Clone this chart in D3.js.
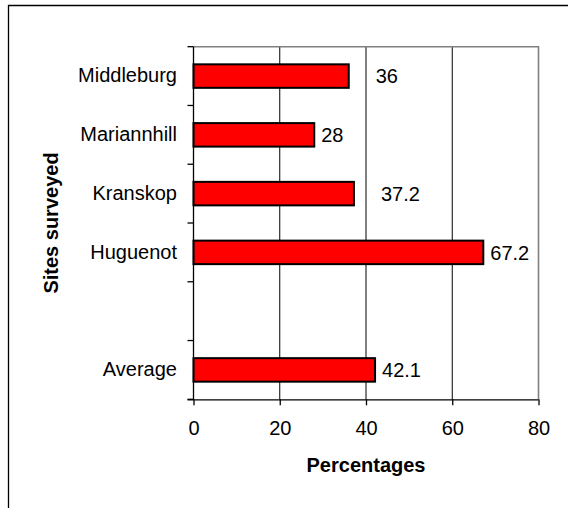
<!DOCTYPE html>
<html>
<head>
<meta charset="utf-8">
<script src="https://cdn.jsdelivr.net/npm/d3@7"></script>
<style>
  html, body { margin: 0; padding: 0; background: #fff; }
  text { font-family: "Liberation Sans", Arial, sans-serif; fill: #000; }
</style>
</head>
<body>
<svg id="chart" width="568" height="508"></svg>
<script>
// ---- data ----
const categories = ["Middleburg", "Mariannhill", "Kranskop", "Huguenot", "", "Average"];
const values = [36, 28, 37.2, 67.2, null, 42.1];
const valueLabels = ["36", "28", "37.2", "67.2", "", "42.1"];
const xTicks = [0, 20, 40, 60, 80];
const xTitle = "Percentages";
const yTitle = "Sites surveyed";

// ---- layout / style ----
const plot = { left: 193.5, right: 538.5, top: 46.7, bottom: 399.3 };
const labelNudge = [20, 0, 20, 0, 0, 0]; // extra label shift seen in the reference
const svg = d3.select("#chart");

svg.append("rect").attr("width", 568).attr("height", 508).attr("fill", "#fff");
// outer frame (only left & top visible in the picture)
svg.append("path")
  .attr("d", "M8.5,520 V5.5 H580")
  .attr("fill", "none").attr("stroke", "#000").attr("stroke-width", 1.3);

const x = d3.scaleLinear().domain([0, 80]).range([plot.left, plot.right]);
const slot = d3.scaleBand().domain(categories).range([plot.top, plot.bottom]).padding(0);
const barH = slot.step() * 0.4;

// gridlines
svg.append("g").selectAll("line").data(xTicks.filter(d => d > 0 && d < 80)).join("line")
  .attr("x1", d => x(d)).attr("x2", d => x(d))
  .attr("y1", plot.top).attr("y2", plot.bottom)
  .attr("stroke", "#000").attr("stroke-width", 1);

// plot frame top/right in gray
svg.append("path")
  .attr("d", `M${plot.left},${plot.top} H${plot.right} V${plot.bottom}`)
  .attr("fill", "none").attr("stroke", "#808080").attr("stroke-width", 1.6);

// bars
const rows = categories.map((c, i) => ({ c, v: values[i], lab: valueLabels[i], nudge: labelNudge[i] }))
  .filter(d => d.v != null);
svg.append("g").selectAll("rect").data(rows).join("rect")
  .attr("x", x(0))
  .attr("y", d => slot(d.c) + slot.step() / 2 - barH / 2)
  .attr("width", d => x(d.v) - x(0))
  .attr("height", barH)
  .attr("fill", "#ff0000").attr("stroke", "#000").attr("stroke-width", 2);

// value labels
svg.append("g").selectAll("text").data(rows).join("text")
  .attr("x", d => x(d.v) + 7 + d.nudge)
  .attr("y", d => slot(d.c) + slot.step() / 2)
  .attr("dy", "0.36em")
  .attr("font-size", 20)
  .text(d => d.lab);

// y axis: category labels
const yAxis = svg.append("g").attr("transform", `translate(${plot.left},0)`)
  .call(d3.axisLeft(slot).tickSize(0).tickPadding(16.5));
yAxis.select(".domain").remove();
yAxis.selectAll("text").attr("font-size", 20).attr("font-family", "Liberation Sans, Arial, sans-serif").attr("fill", "#000");

// y axis line & slot boundary ticks
const bounds = categories.map(c => slot(c)).concat([plot.bottom]);
svg.append("line").attr("x1", plot.left).attr("x2", plot.left)
  .attr("y1", plot.top).attr("y2", plot.bottom).attr("stroke", "#000").attr("stroke-width", 1.3);
svg.append("g").selectAll("line").data(bounds).join("line")
  .attr("x1", plot.left - 6).attr("x2", plot.left)
  .attr("y1", d => d).attr("y2", d => d)
  .attr("stroke", "#000").attr("stroke-width", 1.3);

// x axis
const xAxis = svg.append("g").attr("transform", `translate(0,${plot.bottom})`)
  .call(d3.axisBottom(x).tickValues(xTicks).tickSize(6).tickPadding(16).tickSizeOuter(0));
xAxis.select(".domain").attr("stroke", "#000").attr("stroke-width", 1.3)
  .attr("d", `M${plot.left - 6},0.5 H${plot.right}`);
xAxis.selectAll(".tick line").attr("stroke", "#000").attr("stroke-width", 1.3);
xAxis.selectAll("text").attr("font-size", 20).attr("font-family", "Liberation Sans, Arial, sans-serif").attr("fill", "#000");

// titles
svg.append("text").attr("x", (plot.left + plot.right) / 2).attr("y", 471.5)
  .attr("text-anchor", "middle").attr("font-size", 20).attr("font-weight", "bold")
  .text(xTitle);
svg.append("text").attr("transform", `translate(58,${(plot.top + plot.bottom) / 2}) rotate(-90)`)
  .attr("text-anchor", "middle").attr("font-size", 20).attr("font-weight", "bold")
  .text(yTitle);
</script>
</body>
</html>
